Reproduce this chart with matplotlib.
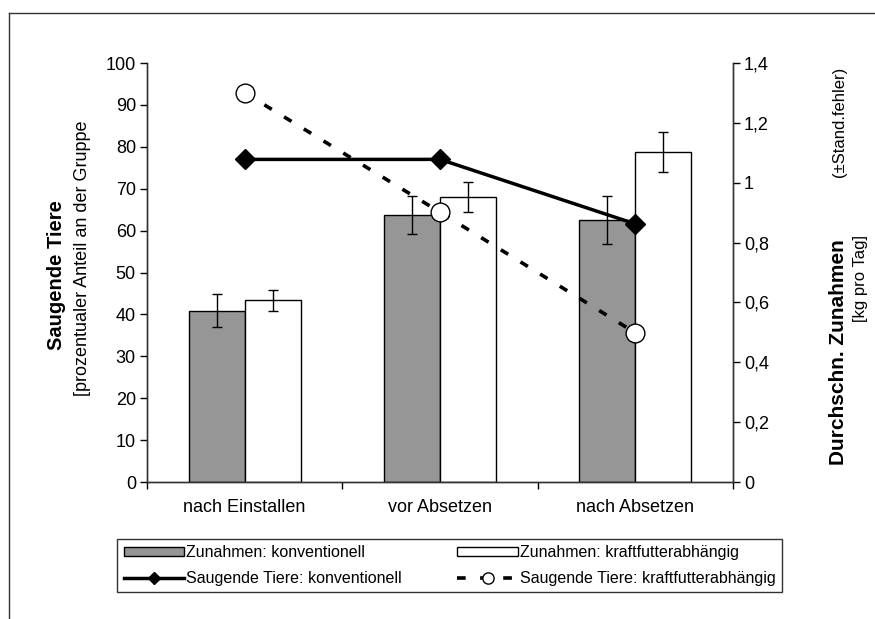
import numpy as np
import matplotlib.pyplot as plt
from matplotlib.lines import Line2D
from matplotlib.ticker import FuncFormatter, MultipleLocator

plt.rcParams['font.family'] = ['Liberation Sans', 'DejaVu Sans']

# Daten
kategorien = ['nach Einstallen', 'vor Absetzen', 'nach Absetzen']
zunahmen_konv = [0.572, 0.892, 0.875]
zunahmen_konv_fehler = [0.055, 0.064, 0.079]
zunahmen_kraft = [0.607, 0.953, 1.102]
zunahmen_kraft_fehler = [0.036, 0.050, 0.066]
saugend_konv = [77.0, 77.0, 61.6]
saugend_kraft = [92.9, 64.4, 35.6]

x = np.arange(len(kategorien))
breite = 0.287

fig = plt.figure(figsize=(8.75, 6.19), dpi=100)
ax = fig.add_axes([0.168, 0.2213, 0.6697, 0.6769])
ax2 = ax.twinx()

# Balken (rechte Achse)
b1 = ax2.bar(x - breite / 2, zunahmen_konv, breite, color='#969696', edgecolor='black', linewidth=1)
b2 = ax2.bar(x + breite / 2, zunahmen_kraft, breite, color='white', edgecolor='black', linewidth=1)
ax2.errorbar(x - breite / 2, zunahmen_konv, yerr=zunahmen_konv_fehler, fmt='none',
             ecolor='black', elinewidth=1, capsize=3.3, capthick=1)
ax2.errorbar(x + breite / 2, zunahmen_kraft, yerr=zunahmen_kraft_fehler, fmt='none',
             ecolor='black', elinewidth=1, capsize=3.3, capthick=1)

# Linien (linke Achse) ueber den Balken
ax.set_zorder(ax2.get_zorder() + 1)
ax.patch.set_visible(False)
l1, = ax.plot(x, saugend_konv, color='black', linewidth=2.5, marker='D', markersize=10)
l2, = ax.plot(x, saugend_kraft, color='black', linewidth=2.6, dashes=(2.4, 4),
              marker='o', markersize=13.5, markerfacecolor='white', markeredgecolor='black',
              markeredgewidth=1)

# Achsen
ax.set_xlim(-0.5, 2.5)
ax.set_ylim(0, 100)
ax2.set_ylim(0, 1.4)
ax.yaxis.set_major_locator(MultipleLocator(10))
ax2.yaxis.set_major_locator(MultipleLocator(0.2))
ax2.yaxis.set_major_formatter(FuncFormatter(lambda v, p: f'{v:.1f}'.rstrip('0').rstrip('.').replace('.', ',')))

ax.set_xticks([-0.5, 0.5, 1.5, 2.5])
ax.set_xticklabels([])
ax.set_xticks(x, minor=True)
ax.set_xticklabels(kategorien, minor=True)
ax.tick_params(axis='x', which='minor', length=0, pad=12, labelsize=13)
ax.tick_params(axis='x', which='major', length=5, width=1, direction='out')
ax.tick_params(axis='y', length=5, width=1, direction='out', labelsize=13, pad=3)
ax2.tick_params(axis='y', length=5, width=1, direction='out', labelsize=13, pad=3)

for a in (ax, ax2):
    a.spines['top'].set_visible(False)
    for s in a.spines.values():
        s.set_color('#333333')
        s.set_linewidth(1)

# Achsentitel
fig.text(57 / 875, 1 - 275 / 619, 'Saugende Tiere', rotation=90, fontsize=14.5,
         fontweight='bold', ha='center', va='center')
fig.text(83 / 875, 1 - 258 / 619, '[prozentualer Anteil an der Gruppe', rotation=90,
         fontsize=13, ha='center', va='center')
fig.text(839 / 875, 1 - 352 / 619, 'Durchschn. Zunahmen', rotation=90, fontsize=15,
         fontweight='bold', ha='center', va='center')
fig.text(839 / 875, 1 - 122 / 619, '(±Stand.fehler)', rotation=90, fontsize=12,
         ha='center', va='center')
fig.text(860 / 875, 1 - 278 / 619, '[kg pro Tag]', rotation=90, fontsize=12,
         ha='center', va='center')

# Legende
leg = fig.legend([b1, l1, b2, l2],
                 ['Zunahmen: konventionell', 'Saugende Tiere: konventionell',
                  'Zunahmen: kraftfutterabhängig', 'Saugende Tiere: kraftfutterabhängig'],
                 ncol=2, loc='center', bbox_to_anchor=(0.1337, 0.042, 0.76, 0.089),
                 bbox_transform=fig.transFigure, mode='expand', fontsize=11.5,
                 frameon=True, fancybox=False, edgecolor='black', handlelength=3.8,
                 handleheight=0.5, handletextpad=0.1, numpoints=1, borderpad=0.42,
                 labelspacing=0.65, borderaxespad=0, markerscale=0.6)
leg.get_frame().set_linewidth(1)

# Rahmen
fig.add_artist(Line2D([9 / 875, 9 / 875], [0, 1 - 13 / 619], transform=fig.transFigure,
                      color='#333333', linewidth=1))
fig.add_artist(Line2D([9 / 875, 1], [1 - 13 / 619, 1 - 13 / 619], transform=fig.transFigure,
                      color='#333333', linewidth=1))

fig.savefig('out.png', dpi=100)
